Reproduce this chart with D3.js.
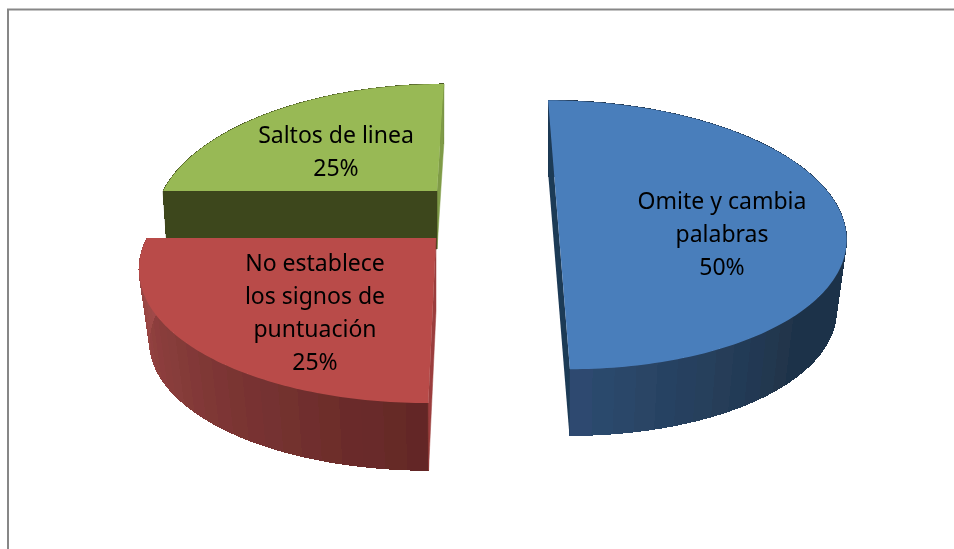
<!DOCTYPE html>
<html>
<head>
<meta charset="utf-8">
<style>html,body{margin:0;padding:0;background:#fff}svg{display:block}</style>
<script src="https://cdn.jsdelivr.net/npm/d3@7/dist/d3.min.js"></script>
</head>
<body>
<svg id="chart" width="954" height="549"></svg>
<script>
// Data
const categories = ["Omite y cambia palabras", "No establece los signos de puntuación", "Saltos de linea"];
const values = [50, 25, 25];
const labelLines = [["Omite y cambia", "palabras"], ["No establece", "los signos de", "puntuación"], ["Saltos de linea"]];

// Styles
const topColors = ["#4a7ebb", "#b94c4a", "#98b954"];
const rimColorsA = ["#1f3349", "#642826", "#3d461e"];
const rimColorsB = ["#2e4c72", "#a24b49", "#4d5a28"];
const wallColors = ["#1f3a56", "#9b3e3c", "#3d461e"];
const sliverColors = ["#1f3a56", "#9b3e3c", "#7f9b47"];

// Layout of each exploded slice under the perspective view
const geom = [
  {ax: 556.7, ay: 206.5, vx: 507, fx: 281, fy: 128.5, dy: 72, s: 0.965},
  {ax: 436,   ay: 238,   vx: 465, fx: 289, fy: 130.4, dy: 73, s: 0.965},
  {ax: 437,   ay: 191,   vx: 477, fx: 274, fy: 129.5, dy: 58, s: 0.985}
];
const labelPos = [{x: 722, y: 209}, {x: 315, y: 271}, {x: 336, y: 143}];
const k = 0.21;

const svg = d3.select("#chart");

svg.append("defs").append("filter").attr("id", "soft")
  .attr("x", "-5%").attr("y", "-5%").attr("width", "110%").attr("height", "110%")
  .append("feGaussianBlur").attr("stdDeviation", 0.45);

// Frame
svg.append("path").attr("d", "M8,549V9.5H954").attr("fill", "none")
   .attr("stroke", "#878787").attr("stroke-width", 2);

const arcs = d3.pie().sort(null).startAngle(0).endAngle(2 * Math.PI)(values);
const total = d3.sum(values);

function project(g, r, a, low) {
  const u = r * Math.sin(a), v = r * Math.cos(a), w = 1 / (1 + k * v);
  const s = low ? g.s : 1;
  const x = g.ax + s * ((g.ax - g.vx) * (w - 1) + g.fx * u * w);
  const y = g.ay + (low ? g.dy : 0) - s * g.fy * v * w;
  return [x, y];
}
const line = d3.line();
const STEP = Math.PI / 50;
function sweep(a0, a1) {
  const n = Math.max(1, Math.round((a1 - a0) / (Math.PI / 180)));
  return d3.range(n + 1).map(i => a0 + (a1 - a0) * i / n);
}

const marks = svg.append("g").attr("filter", "url(#soft)");

// Back to front: green, blue, red
[2, 0, 1].forEach(i => {
  const d = arcs[i], g = geom[i];
  const group = marks.append("g").attr("class", "slice");
  const T = (r, a) => project(g, r, a, false);
  const B = (r, a) => project(g, r, a, true);

  // Curved rim, drawn as bands
  const color = d3.scaleLinear()
    .domain(i === 0 ? [d.startAngle + Math.PI * 0.74, d.endAngle] : [d.startAngle, d.endAngle])
    .range([rimColorsA[i], rimColorsB[i]]).clamp(true);
  const bands = d3.range(d.startAngle, d.endAngle - 1e-6, STEP);
  group.selectAll("path.rim").data(bands).join("path")
    .attr("class", "rim")
    .attr("shape-rendering", "crispEdges")
    .attr("d", a0 => {
      const as = sweep(a0, Math.min(a0 + STEP, d.endAngle));
      return line([...as.map(a => T(1, a)), ...as.slice().reverse().map(a => B(1, a))]) + "Z";
    })
    .attr("fill", a0 => color(a0))
    .attr("stroke", a0 => color(a0)).attr("stroke-width", 1);

  // Cut faces
  const face = (a, c) => group.append("path")
    .attr("d", line([T(0, a), T(1, a), B(1, a), B(0, a)]) + "Z")
    .attr("fill", c).attr("stroke", c).attr("stroke-width", 0.5);
  if (i === 0) {
    group.append("path")
      .attr("d", line([T(1, d.startAngle), T(1, d.endAngle), B(1, d.endAngle), B(1, d.startAngle)]) + "Z")
      .attr("fill", wallColors[0]);
  } else if (i === 1) {
    face(d.startAngle, sliverColors[1]);
  } else {
    face(d.endAngle, sliverColors[2]);
    face(d.startAngle, wallColors[2]);
  }

  // Top surface
  group.append("path")
    .attr("d", line([T(0, d.startAngle), ...sweep(d.startAngle, d.endAngle).map(a => T(1, a))]) + "Z")
    .attr("fill", topColors[i]);
});

// Labels
const text = svg.append("g")
  .attr("font-family", "'Noto Sans', sans-serif")
  .attr("font-size", 23)
  .attr("fill", "#000")
  .attr("text-anchor", "middle")
  .attr("filter", "url(#soft)");
arcs.forEach((d, i) => {
  const lines = [...labelLines[i], Math.round(d.value / total * 100) + "%"];
  lines.forEach((t, j) => {
    text.append("text")
      .attr("x", labelPos[i].x)
      .attr("y", labelPos[i].y + j * 33)
      .text(t);
  });
});
</script>
</body>
</html>
